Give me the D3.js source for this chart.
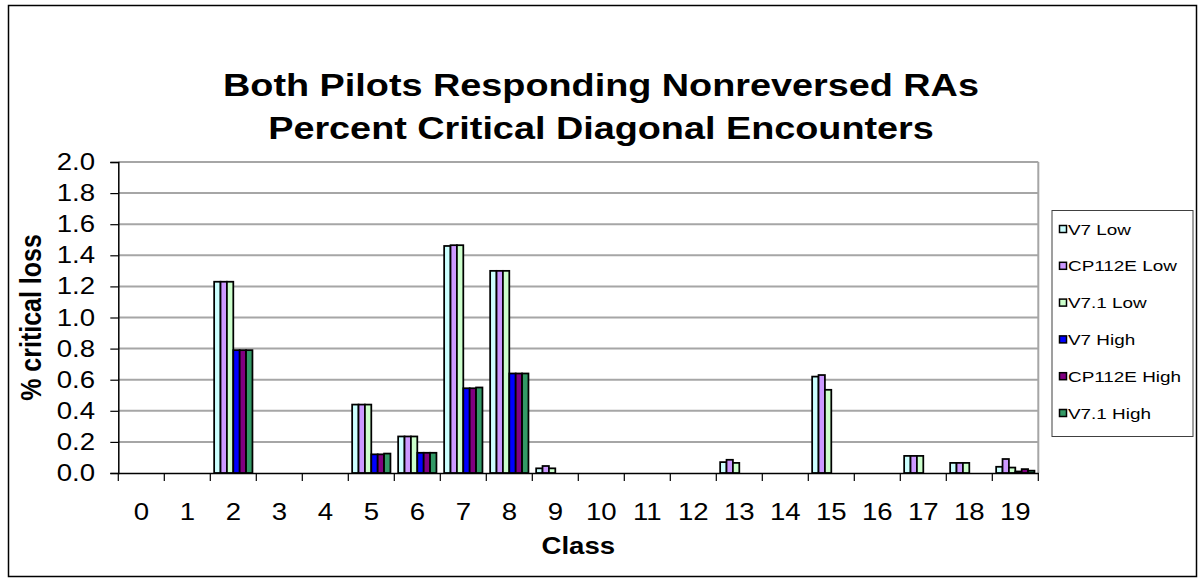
<!DOCTYPE html>
<html><head><meta charset="utf-8">
<script src="https://cdn.jsdelivr.net/npm/d3@7"></script>
<style>
html,body{margin:0;padding:0;background:#fff;}
svg{display:block;}
text{font-family:"Liberation Sans",Arial,sans-serif;fill:#000;}
</style></head>
<body><svg id="chart" width="1203" height="581"></svg>
<script>
const titleLines = ["Both Pilots Responding Nonreversed RAs", "Percent Critical Diagonal Encounters"];
const classes = ["0","1","2","3","4","5","6","7","8","9","10","11","12","13","14","15","16","17","18","19"];
const seriesNames = ["V7 Low","CP112E Low","V7.1 Low","V7 High","CP112E High","V7.1 High"];
const seriesColors = ["#CCFFFF","#CC99FF","#CCFFCC","#0000FF","#800080","#339966"];
const v7Low    = [0,0,1.23,0,0,0.44,0.235,1.46,1.30,0.03,0,0,0,0.07,0,0.62,0,0.11,0.065,0.04];
const cpLow    = [0,0,1.23,0,0,0.44,0.235,1.465,1.30,0.045,0,0,0,0.085,0,0.63,0,0.11,0.065,0.09];
const v71Low   = [0,0,1.23,0,0,0.44,0.235,1.465,1.30,0.03,0,0,0,0.065,0,0.535,0,0.11,0.065,0.035];
const v7High   = [0,0,0.79,0,0,0.12,0.13,0.545,0.64,0,0,0,0,0,0,0,0,0,0,0.01];
const cpHigh   = [0,0,0.79,0,0,0.12,0.13,0.545,0.64,0,0,0,0,0,0,0,0,0,0,0.025];
const v71High  = [0,0,0.79,0,0,0.125,0.13,0.55,0.64,0,0,0,0,0,0,0,0,0,0,0.015];
const yTicks = [0,0.2,0.4,0.6,0.8,1.0,1.2,1.4,1.6,1.8,2.0];
const yLabel = "% critical loss";
const xLabel = "Class";

const seriesValues = [v7Low, cpLow, v71Low, v7High, cpHigh, v71High];
const svg = d3.select("#chart");
const SX = 1.2; // horizontal text stretch seen in reference

function stext(parent, x, y, str, size, weight, anchor, sx){
  return parent.append("text")
    .attr("transform", `translate(${x},${y}) scale(${sx||SX},1)`)
    .attr("text-anchor", anchor||"start")
    .style("font-size", size+"px")
    .style("font-weight", weight||"normal")
    .text(str);
}

// outer frame
svg.append("rect").attr("x",8.5).attr("y",5.5).attr("width",1188).attr("height",571)
  .attr("fill","#fff").attr("stroke","#000").attr("stroke-width",1.5);

const L = 118.3, R = 1038.3, T = 162, B = 473;
const x = d3.scaleBand().domain(classes).range([L,R]).paddingInner(0).paddingOuter(0);
const inner = d3.scaleBand().domain(seriesNames).range([x.bandwidth()*0.0837, x.bandwidth()*(1-0.0837)]);
const y = d3.scaleLinear().domain([0,2]).range([B,T]);

// gridlines
svg.append("g").selectAll("line").data(yTicks.filter(d=>d>0)).join("line")
  .attr("x1",L).attr("x2",R).attr("y1",d=>y(d)).attr("y2",d=>y(d))
  .attr("stroke","#a6a6a6").attr("stroke-width",2);
// right border of plot
svg.append("line").attr("x1",R).attr("x2",R).attr("y1",T).attr("y2",B).attr("stroke","#a6a6a6").attr("stroke-width",2);

// bars
const rows = classes.map((c,i)=>({c, vals: seriesNames.map((s,j)=>({s, v: seriesValues[j][i], color: seriesColors[j]}))}));
const groups = svg.append("g").selectAll("g").data(rows).join("g")
  .attr("transform", d=>`translate(${x(d.c)},0)`);
groups.selectAll("rect").data(d=>d.vals.filter(v=>v.v>0)).join("rect")
  .attr("x", d=>inner(d.s)).attr("width", inner.bandwidth())
  .attr("y", d=>y(d.v)).attr("height", d=>B - y(d.v))
  .attr("fill", d=>d.color).attr("stroke","#000").attr("stroke-width",1.75);

// y axis
const yAxis = svg.append("g").attr("transform",`translate(${L},0)`)
  .call(d3.axisLeft(y).tickValues(yTicks).tickSize(8).tickFormat(""));
yAxis.select(".domain").attr("stroke","#000").attr("stroke-width",1.5);
yAxis.selectAll(".tick line").attr("stroke","#000").attr("stroke-width",1.2);
yTicks.forEach(t=>{
  stext(svg, 95, y(t)+8, d3.format(".1f")(t), 23, "normal", "end");
});

// x axis
const xAxis = svg.append("g").attr("transform",`translate(0,${B})`)
  .call(d3.axisBottom(x).tickSize(0).tickFormat(""));
xAxis.select(".domain").attr("stroke","#000").attr("stroke-width",1.5);
const bounds = classes.map(c=>x(c)).concat([R]);
svg.append("g").selectAll("line").data(bounds).join("line")
  .attr("x1",d=>d).attr("x2",d=>d).attr("y1",B).attr("y2",B+8)
  .attr("stroke","#000").attr("stroke-width",1.2);
classes.forEach(c=>{
  stext(svg, x(c)+x.bandwidth()/2, 520, c, 23, "normal", "middle");
});

// axis titles
stext(svg, (L+R)/2, 554, xLabel, 23, "bold", "middle");
svg.append("text")
  .attr("transform", `translate(41,${(T+B)/2}) scale(${SX},1) rotate(-90)`)
  .attr("text-anchor","middle").style("font-size","25px").style("font-weight","bold")
  .text(yLabel);

// title
stext(svg, 601, 96, titleLines[0], 31.5, "bold", "middle");
stext(svg, 601, 139, titleLines[1], 31.5, "bold", "middle");

// legend
svg.append("rect").attr("x",1052).attr("y",210.5).attr("width",141).attr("height",226)
  .attr("fill","#fff").attr("stroke","#404040").attr("stroke-width",1);
seriesNames.forEach((s,i)=>{
  const cy = 229 + i*36.8;
  svg.append("rect").attr("x",1059.5).attr("y",cy-3.5).attr("width",7).attr("height",7)
    .attr("fill",seriesColors[i]).attr("stroke","#000").attr("stroke-width",1.5);
  stext(svg, 1068, cy+5.5, s, 15.5, "normal", "start", 1.22);
});
</script></body></html>
